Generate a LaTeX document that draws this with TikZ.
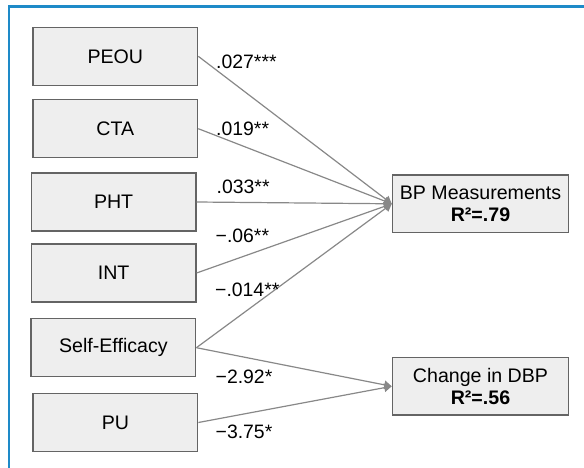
\documentclass[tikz,border=0pt]{standalone}
\usepackage{fontspec}
\setmainfont{Liberation Sans}
\usetikzlibrary{arrows.meta}
\definecolor{framblue}{RGB}{30,138,200}
\definecolor{boxfill}{RGB}{238,238,238}
\definecolor{boxline}{RGB}{100,100,100}
\definecolor{linkgray}{RGB}{136,136,136}
\tikzset{
  varbox/.style={draw=boxline, fill=boxfill, line width=1.5pt, rectangle,
    minimum width=164.5pt, minimum height=58pt, inner sep=0pt,
    font=\fontsize{19.6}{21.5}\selectfont, align=center},
  outbox/.style={varbox, minimum width=176pt, minimum height=57.5pt},
  link/.style={draw=linkgray, line width=1.2pt},
  arrlink/.style={link, -{Triangle[length=7.5pt,width=8.5pt]}},
  coef/.style={anchor=base west, inner sep=0pt, font=\fontsize{19.4}{21.5}\selectfont},
  frameline/.style={draw=framblue, line width=2.5pt}
}
\begin{document}
\begin{tikzpicture}[x=1pt,y=-1pt]
\useasboundingbox (0,0) rectangle (584,468);
\coordinate (ftop) at (584,6.75);
\coordinate (fcorner) at (9,6.75);
\coordinate (fbot) at (9,468);
\draw[frameline] (ftop) -- (fcorner) -- (fbot);

\node[varbox] (peou) at (115.3,56.3) {PEOU};
\node[varbox] (cta)  at (115.3,128.7) {CTA};
\node[varbox] (pht)  at (113.6,202) {PHT};
\node[varbox] (int)  at (113.6,273) {INT};
\node[varbox] (se)   at (113.4,347.7) {Self-Efficacy};
\node[varbox] (pu)   at (115.4,422.5) {PU};

\node[outbox] (bp)  at (480.5,203.8) {BP Measurements\\\textbf{R²=.79}};
\node[outbox] (dbp) at (480.5,386.3) {Change in DBP\\\textbf{R²=.56}};

\draw[arrlink] (peou.east) -- (bp.west);
\draw[arrlink] (cta.east) -- (bp.west);
\draw[arrlink] (pht.east) -- (bp.west);
\draw[arrlink] (int.east) -- (bp.west);
\draw[arrlink] (se.east) -- (bp.west);
\draw[arrlink] (se.east) -- (dbp.west);
\draw[arrlink] (pu.east) -- (dbp.west);

\node[coef] (c1) at (216,68.3) {.027***};
\node[coef] (c2) at (216,135.5) {.019**};
\node[coef] (c3) at (216.5,193.3) {.033**};
\node[coef] (c4) at (215.5,242.7) {−.06**};
\node[coef] (c5) at (215,296.7) {−.014**};
\node[coef] (c6) at (215.5,383.3) {−2.92*};
\node[coef] (c7) at (215.5,438.3) {−3.75*};
\end{tikzpicture}
\end{document}
